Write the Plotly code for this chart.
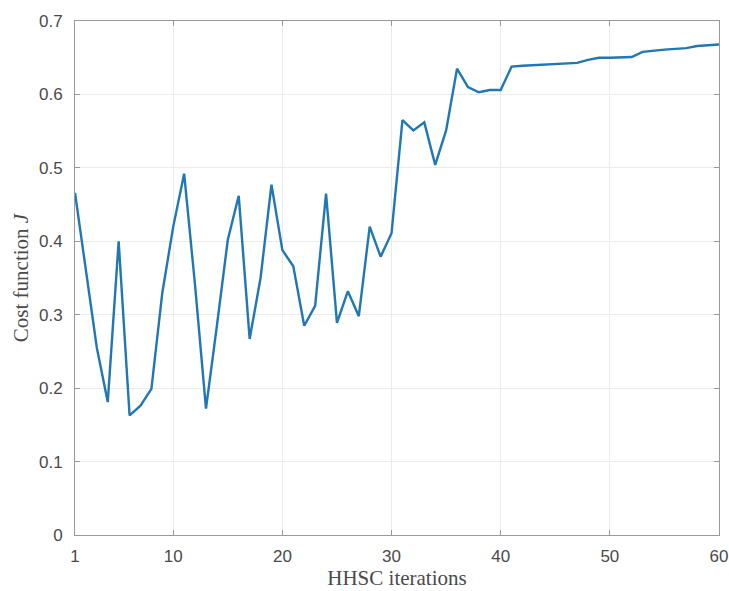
import plotly.graph_objects as go

iterations = list(range(1, 61))
cost_j = [
    0.466, 0.360, 0.255, 0.181, 0.400, 0.163, 0.176, 0.199, 0.330, 0.420,
    0.492, 0.340, 0.172, 0.285, 0.402, 0.462, 0.267, 0.350, 0.477, 0.388,
    0.366, 0.285, 0.312, 0.465, 0.289, 0.332, 0.298, 0.420, 0.379, 0.411,
    0.565, 0.551, 0.562, 0.504, 0.551, 0.635, 0.610, 0.603, 0.606, 0.606,
    0.638, 0.639, 0.640, 0.641, 0.641, 0.642, 0.643, 0.647, 0.650, 0.650,
    0.650, 0.651, 0.658, 0.660, 0.661, 0.662, 0.663, 0.666, 0.667, 0.668,
]
x_ticks = [1, 10, 20, 30, 40, 50, 60]
y_ticks = [0, 0.1, 0.2, 0.3, 0.4, 0.5, 0.6, 0.7]
y_tick_labels = ["0", "0.1", "0.2", "0.3", "0.4", "0.5", "0.6", "0.7"]

fig = go.Figure()
fig.add_trace(go.Scatter(
    x=iterations, y=cost_j, mode="lines",
    line=dict(color="#1f77b4", width=2.4),
    showlegend=False,
))

axis_common = dict(
    showline=True, linecolor="#9a9a9a", linewidth=1, mirror="ticks",
    ticks="inside", ticklen=5, tickcolor="#9a9a9a",
    showgrid=True, gridcolor="#ebebeb", gridwidth=1,
    zeroline=False, automargin=False,
    tickfont=dict(family="Liberation Sans, Arial, sans-serif", size=17, color="#4a4a4a"),
)

title_font = dict(family="Liberation Serif, Times New Roman, serif", size=21, color="#4a4a4a")

fig.update_layout(
    width=729, height=591,
    margin=dict(l=75, r=10, t=21, b=56),
    paper_bgcolor="white", plot_bgcolor="white",
    xaxis=dict(
        range=[1, 60], tickvals=x_ticks, ticktext=[str(v) for v in x_ticks],
        ticklabelstandoff=6,
        title=dict(text="HHSC iterations", standoff=2, font=title_font),
        **axis_common,
    ),
    yaxis=dict(
        range=[0, 0.7], tickvals=y_ticks, ticktext=y_tick_labels,
        ticklabelstandoff=8,
        title=dict(text="Cost function <i>J</i>", standoff=4, font=title_font),
        **axis_common,
    ),
)

fig.write_html(
    "out.html",
    config={"displayModeBar": False},
    post_script="document.body.style.margin='0';document.body.style.overflow='hidden';",
)
